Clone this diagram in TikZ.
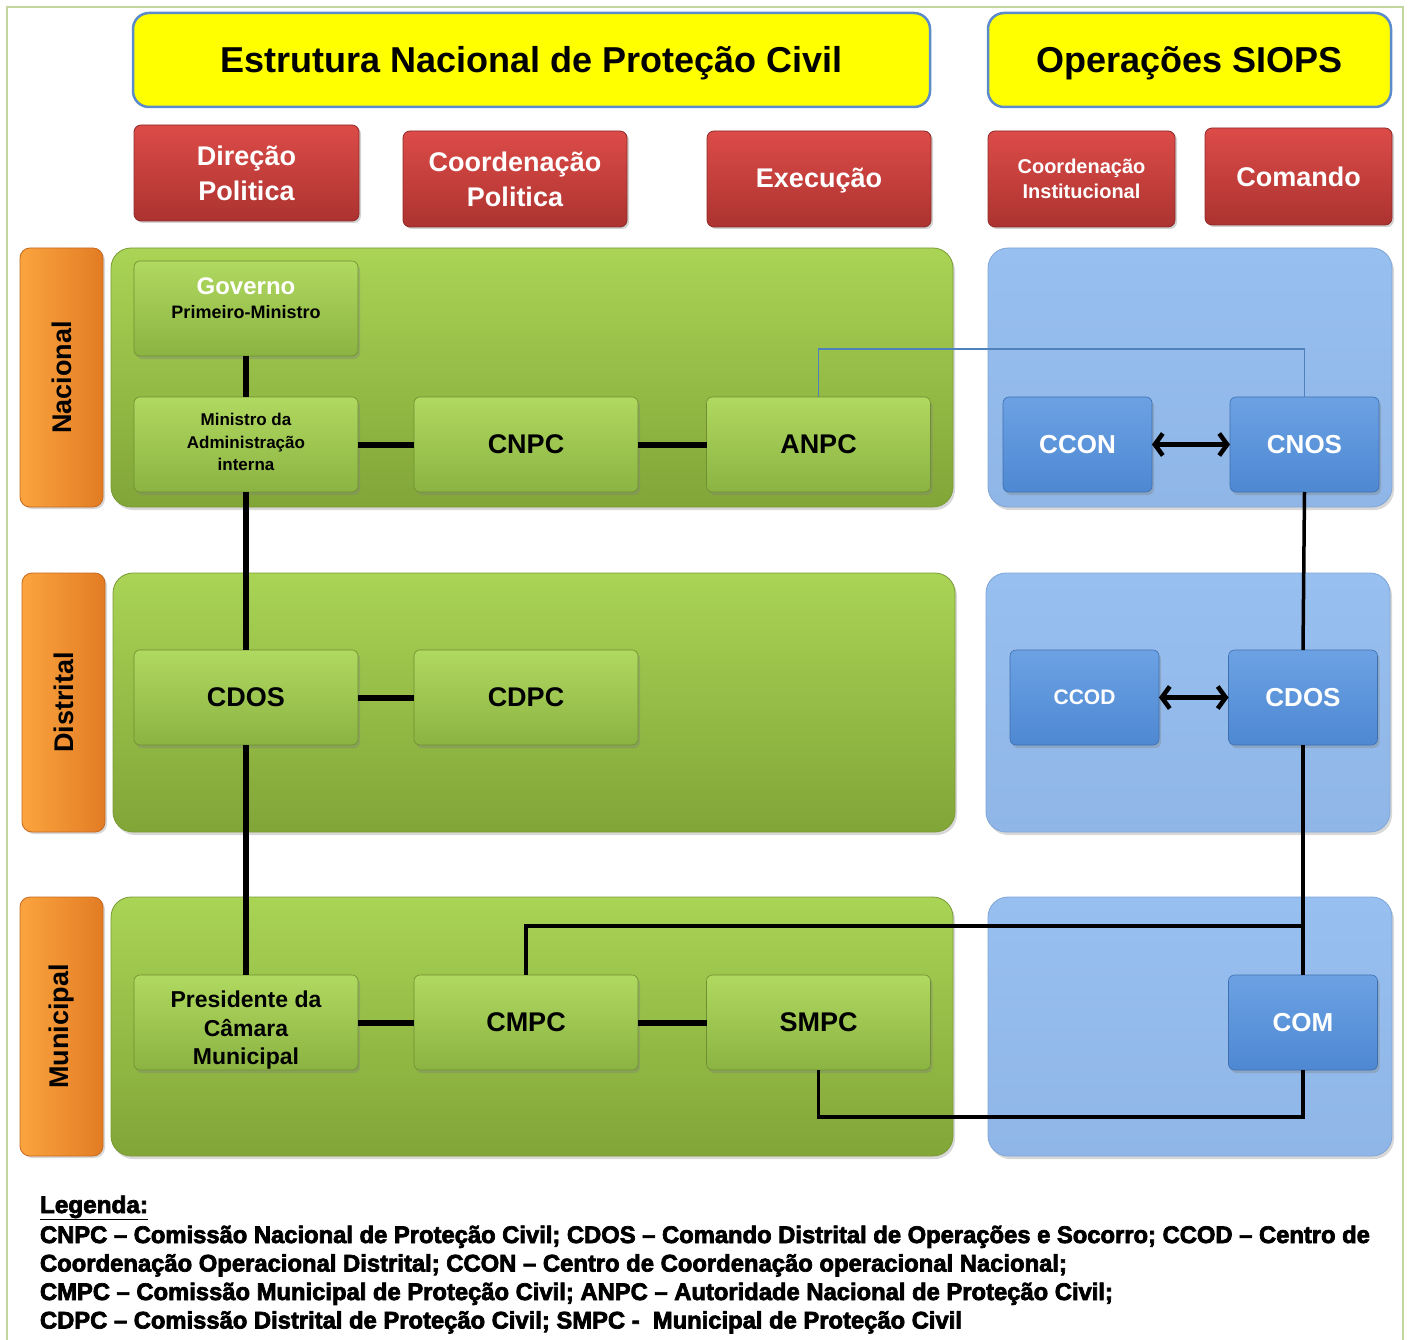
\documentclass[tikz,border=0pt]{standalone}
\usepackage{fontspec}
\usepackage{graphicx}
\setmainfont{Liberation Sans}
\newfontfamily\legfam[UprightFont={* Bold},UprightFeatures={FakeBold=3}]{Liberation Sans}
\usetikzlibrary{arrows.meta,shadows}
\definecolor{ylw}{HTML}{FFFF00}
\definecolor{ylwborder}{HTML}{5B8BCB}
\definecolor{redtop}{HTML}{DC4B48}
\definecolor{redbot}{HTML}{AC3330}
\definecolor{redline}{HTML}{8E2A28}
\definecolor{orgL}{HTML}{FBA43F}
\definecolor{orgR}{HTML}{E27C24}
\definecolor{orgline}{HTML}{C8691E}
\definecolor{grnTop}{HTML}{A9D455}
\definecolor{grnBot}{HTML}{82A538}
\definecolor{grnline}{HTML}{7A9A36}
\definecolor{gnodeTop}{HTML}{B0D960}
\definecolor{gnodeBot}{HTML}{8BB342}
\definecolor{gnodeline}{HTML}{6F8F32}
\definecolor{bluePanel}{HTML}{97BFEF}
\definecolor{bluePanelB}{HTML}{8FB6E6}
\definecolor{bpanline}{HTML}{7FA6D6}
\definecolor{bnodeTop}{HTML}{6CA2E4}
\definecolor{bnodeBot}{HTML}{4E88D2}
\definecolor{bnodeline}{HTML}{3E6FB0}
\definecolor{frameG}{HTML}{C3D69B}
\definecolor{conBlue}{HTML}{4F81BD}
\newsavebox\legbox
\newcommand{\legline}[2]{\sbox\legbox{#2}\pgfmathsetmacro\legfac{#1/\the\wd\legbox}\scalebox{\legfac}[1]{\usebox\legbox}}
\begin{document}
\begin{tikzpicture}[x=1pt,y=1pt,
  every node/.style={inner sep=0pt,outer sep=0pt},
  ttl/.style={draw=ylwborder,line width=2.5pt,fill=ylw,rounded corners=16pt},
  ttltext/.style={font=\fontsize{36}{40}\selectfont\bfseries},
  redbox/.style={rounded corners=7pt,top color=redtop,bottom color=redbot,draw=redline,line width=0.8pt,text=white,align=center,
    font=\fontsize{27}{35}\selectfont\bfseries,drop shadow={shadow xshift=2pt,shadow yshift=-2pt,opacity=0.35}},
  lvlbox/.style={rounded corners=10pt,left color=orgL,right color=orgR,draw=orgline,line width=0.8pt,minimum width=83pt,minimum height=259pt,
    drop shadow={shadow xshift=2pt,shadow yshift=-2pt,opacity=0.3}},
  lvltext/.style={rotate=90,font=\fontsize{27}{30}\selectfont\bfseries},
  panelG/.style={rounded corners=20pt,top color=grnTop,bottom color=grnBot,draw=grnline,line width=0.8pt,minimum width=842pt,minimum height=259pt,
    drop shadow={shadow xshift=2pt,shadow yshift=-3pt,opacity=0.3}},
  panelB/.style={rounded corners=20pt,top color=bluePanel,bottom color=bluePanelB,draw=bpanline,line width=0.8pt,minimum width=404pt,minimum height=259pt,
    drop shadow={shadow xshift=2pt,shadow yshift=-3pt,opacity=0.3}},
  gnode/.style={rounded corners=6pt,top color=gnodeTop,bottom color=gnodeBot,draw=gnodeline,line width=0.6pt,minimum width=224pt,minimum height=95pt,
    align=center,font=\fontsize{27}{32}\selectfont\bfseries,drop shadow={shadow xshift=2pt,shadow yshift=-3pt,opacity=0.35}},
  bnode/.style={rounded corners=6pt,top color=bnodeTop,bottom color=bnodeBot,draw=bnodeline,line width=0.6pt,minimum width=149pt,minimum height=95pt,
    text=white,align=center,font=\fontsize{26}{30}\selectfont\bfseries,drop shadow={shadow xshift=2pt,shadow yshift=-3pt,opacity=0.35}},
  conA/.style={line width=6pt},
  conB/.style={line width=3.5pt},
  conC/.style={line width=1.8pt,draw=conBlue},
  biarrow/.style={line width=4.5pt,{Straight Barb[length=8pt,width=22pt]}-{Straight Barb[length=8pt,width=22pt]}},
  legfont/.style={font=\fontsize{24}{28}\legfam}
]
\useasboundingbox (0,0) rectangle (1408,-1340);
\fill[white] (0,0) rectangle (1408,-1340);
\draw[frameG,line width=1.5pt] (7,-7) rectangle (1403,-1360);

% titles
\node[ttl,minimum width=797pt,minimum height=94pt] (t1) at (531.5,-60) {};
\node[ttltext] (t1t) at (531.5,-63) {Estrutura Nacional de Proteção Civil};
\node[ttl,minimum width=403pt,minimum height=94pt] (t2) at (1189.5,-60) {};
\node[ttltext] (t2t) at (1189.5,-63) {Operações SIOPS};

% red headers
\node[redbox,minimum width=225pt,minimum height=96pt] (h1) at (246.5,-173) {Direção\\Politica};
\node[redbox,minimum width=224pt,minimum height=96pt] (h2) at (515,-179) {Coordenação\\Politica};
\node[redbox,minimum width=224pt,minimum height=96pt] (h3) at (819,-179) {};
\node[text=white,font=\fontsize{27}{35}\selectfont\bfseries] (h3t) at (819,-181) {Execução};
\node[redbox,minimum width=187pt,minimum height=96pt,font=\fontsize{20}{25}\selectfont\bfseries] (h4) at (1081.5,-179) {Coordenação\\Institucional};
\node[redbox,minimum width=187pt,minimum height=97pt] (h5) at (1298.5,-176.5) {Comando};

% level labels
\node[lvlbox] (lv1) at (61.5,-377.5) {};
\node[lvltext] (lv1t) at (lv1) {Nacional};
\node[lvlbox] (lv2) at (63.5,-702.5) {};
\node[lvltext] (lv2t) at (lv2) {Distrital};
\node[lvlbox] (lv3) at (61.5,-1026.5) {};
\node[lvltext] (lv3t) at (lv3) {Municipal};

% panels
\node[panelG] (pg1) at (532,-377.5) {};
\node[panelG] (pg2) at (534,-702.5) {};
\node[panelG] (pg3) at (532,-1026.5) {};
\node[panelB] (pb1) at (1190,-377.5) {};
\node[panelB] (pb2) at (1188,-702.5) {};
\node[panelB] (pb3) at (1190,-1026.5) {};

% green nodes
\node[gnode] (gov) at (246,-308.5) {};
\node[text=white,font=\fontsize{24}{28}\selectfont\bfseries] (govt) at (246,-286) {Governo};
\node[font=\fontsize{18}{22}\selectfont\bfseries] (pmt) at (246,-312) {Primeiro-Ministro};
\node[gnode] (mai) at (246,-444.5) {};
\node[align=center,font=\fontsize{17}{22.5}\selectfont\bfseries] (mait) at (246,-442) {Ministro da\\Administração\\interna};
\node[gnode] (cnpc) at (526,-444.5) {CNPC};
\node[gnode] (anpc) at (818.5,-444.5) {ANPC};
\node[gnode] (cdos) at (246,-697.5) {CDOS};
\node[gnode] (cdpc) at (526,-697.5) {CDPC};
\node[gnode] (pcm) at (246,-1022.5) {};
\node[align=center,font=\fontsize{23}{28.5}\selectfont\bfseries] (pcmt) at (246,-1030.5) {Presidente da\\Câmara\\Municipal};
\node[gnode] (cmpc) at (526,-1022.5) {CMPC};
\node[gnode] (smpc) at (818.5,-1022.5) {SMPC};

% blue nodes
\node[bnode] (ccon) at (1077.5,-444.5) {CCON};
\node[bnode] (cnos) at (1304.5,-444.5) {CNOS};
\node[bnode,font=\fontsize{21}{25}\selectfont\bfseries] (ccod) at (1084.5,-697.5) {CCOD};
\node[bnode] (cdosb) at (1303,-697.5) {CDOS};
\node[bnode] (com) at (1303,-1022.5) {COM};

% connectors
\draw[conA] (gov.south) -- (mai.north);
\draw[conA] (mai.east) -- (cnpc.west);
\draw[conA] (cnpc.east) -- (anpc.west);
\draw[conA] (mai.south) -- (cdos.north);
\draw[conA] (cdos.east) -- (cdpc.west);
\draw[conA] (cdos.south) -- (pcm.north);
\draw[conA] (pcm.east) -- (cmpc.west);
\draw[conA] (cmpc.east) -- (smpc.west);
\draw[conC] (anpc.north) -- ++(0,48) -| (cnos.north);
\draw[conB] (cnos.south) -- (cdosb.north);
\draw[conB] (cdosb.south) -- (com.north);
\draw[conB] (cmpc.north) -- ++(0,49) -| (com.north);
\draw[conB] (smpc.south) -- ++(0,-47) -| (com.south);
\draw[biarrow] (ccon.east) -- (cnos.west);
\draw[biarrow] (ccod.east) -- (cdosb.west);

% legend
\node[legfont,anchor=base west] (lg0) at (40,-1213) {\legline{108}{\underline{Legenda:}}};
\node[legfont,anchor=base west] (lg1) at (40,-1243) {\legline{1330}{CNPC – Comissão Nacional de Proteção Civil; CDOS – Comando Distrital de Operações e Socorro; CCOD – Centro de}};
\node[legfont,anchor=base west] (lg2) at (40,-1271.5) {\legline{1027}{Coordenação Operacional Distrital; CCON – Centro de Coordenação operacional Nacional;}};
\node[legfont,anchor=base west] (lg3) at (40,-1300) {\legline{1073}{CMPC – Comissão Municipal de Proteção Civil; ANPC – Autoridade Nacional de Proteção Civil;}};
\node[legfont,anchor=base west] (lg4) at (40,-1328.5) {\legline{922}{CDPC – Comissão Distrital de Proteção Civil; SMPC -\ \ Municipal de Proteção Civil}};
\end{tikzpicture}
\end{document}
